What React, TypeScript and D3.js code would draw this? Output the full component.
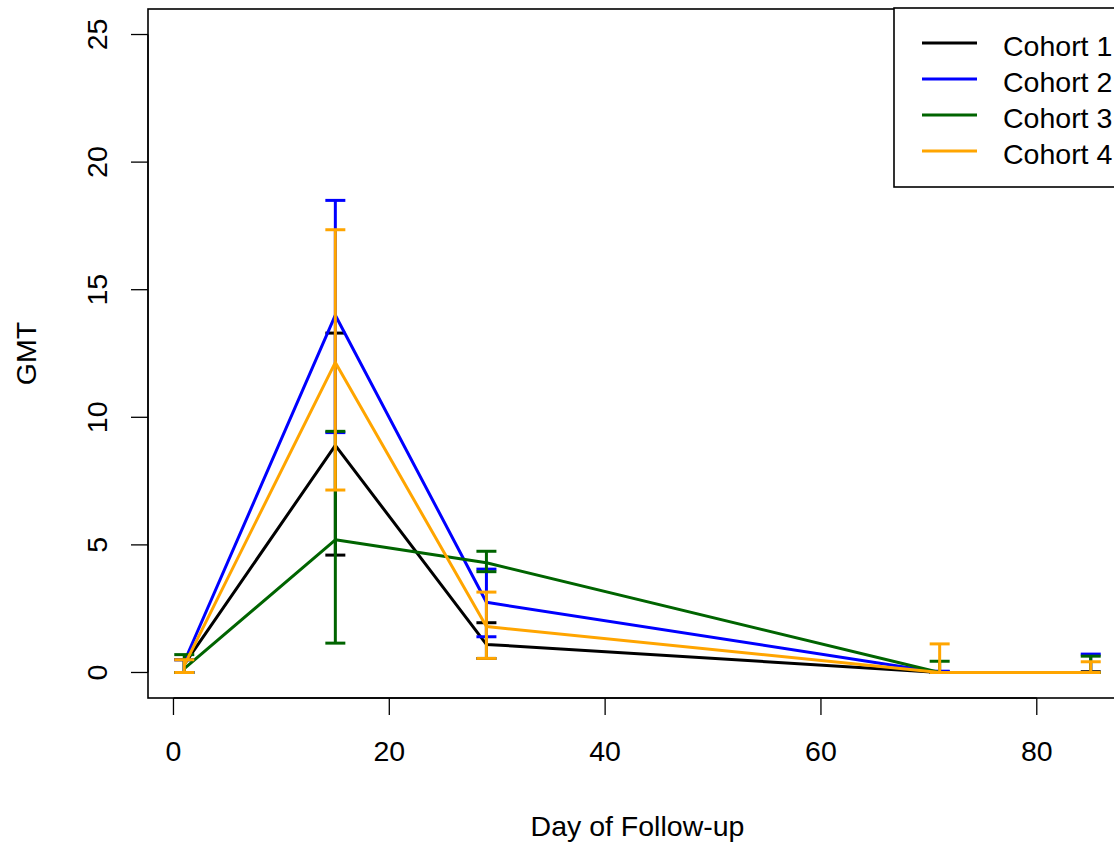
import React from "react";
import * as d3 from "d3";

// Days of follow-up at which GMT was measured
const days = [1, 15, 29, 71, 85];

const cohortNames = ["Cohort 1", "Cohort 2", "Cohort 3", "Cohort 4"];
const cohortColors = ["#000000", "#0000FF", "#006400", "#FFA500"];

// Geometric mean titres per cohort
const gmtCohort1 = [0.32, 8.9, 1.1, 0.0, 0.0];
const gmtCohort2 = [0.42, 14.0, 2.75, 0.0, 0.0];
const gmtCohort3 = [0.15, 5.2, 4.3, 0.0, 0.0];
const gmtCohort4 = [0.28, 12.15, 1.8, 0.0, 0.0];

// Lower confidence limits
const lowCohort1 = [0.0, 4.6, 0.55, 0.0, 0.0];
const lowCohort2 = [0.0, 9.4, 1.4, 0.0, 0.0];
const lowCohort3 = [0.0, 1.15, 3.95, 0.0, 0.0];
const lowCohort4 = [0.0, 7.15, 0.55, 0.0, 0.0];

// Upper confidence limits
const highCohort1 = [0.5, 13.3, 1.95, 0.03, 0.03];
const highCohort2 = [0.5, 18.5, 4.05, 0.05, 0.72];
const highCohort3 = [0.7, 9.45, 4.75, 0.44, 0.64];
const highCohort4 = [0.5, 17.35, 3.15, 1.12, 0.42];

const xTicks = [0, 20, 40, 60, 80];
const yTicks = [0, 5, 10, 15, 20, 25];

const gmt = [gmtCohort1, gmtCohort2, gmtCohort3, gmtCohort4];
const low = [lowCohort1, lowCohort2, lowCohort3, lowCohort4];
const high = [highCohort1, highCohort2, highCohort3, highCohort4];

const W = 1114;
const H = 844;
const plot = { left: 148, right: 1127, top: 9, bottom: 698 };

// R-style axis ranges: data limits padded by 4% on each side
const xLim = [1, 85];
const yLim = [0, 25];
const pad = (l: number[]) => {
  const r = l[1] - l[0];
  return [l[0] - 0.04 * r, l[1] + 0.04 * r];
};

const FONT = "'Liberation Sans', Arial, sans-serif";
const FS = 28.5;

export default function App() {
  const x = d3.scaleLinear().domain(pad(xLim)).range([plot.left, plot.right]);
  const y = d3.scaleLinear().domain(pad(yLim)).range([plot.bottom, plot.top]);
  const line = d3
    .line<number>()
    .x((_, i) => x(days[i]))
    .y((v) => y(v));

  const capHalf = 10;
  const lw = 3;

  const legendRowsY = [43, 79, 115, 151];

  return (
    <svg
      width={W}
      height={H}
      style={{ position: "absolute", left: 0, top: 0, background: "#fff" }}
      fontFamily={FONT}
    >
      <rect width={W} height={H} fill="#fff" />

      {/* series lines and error bars, drawn cohort by cohort */}
      {gmt.map((series, ci) => (
        <g key={ci} stroke={cohortColors[ci]} strokeWidth={lw} fill="none">
          <path d={line(series) || ""} strokeLinejoin="round" />
          {days.map((d, i) => {
            const lo = low[ci][i];
            const hi = high[ci][i];
            if (hi - lo < 1e-6) return null;
            const cx = x(d);
            return (
              <g key={i}>
                <line x1={cx} x2={cx} y1={y(lo)} y2={y(hi)} />
                <line x1={cx - capHalf} x2={cx + capHalf} y1={y(lo)} y2={y(lo)} />
                <line x1={cx - capHalf} x2={cx + capHalf} y1={y(hi)} y2={y(hi)} />
              </g>
            );
          })}
        </g>
      ))}

      {/* plot frame */}
      <rect
        x={plot.left}
        y={plot.top}
        width={plot.right - plot.left}
        height={plot.bottom - plot.top}
        fill="none"
        stroke="#000"
        strokeWidth={1.6}
      />

      {/* x axis */}
      <g stroke="#000" strokeWidth={1.3}>
        <line x1={x(xTicks[0])} x2={x(xTicks[xTicks.length - 1])} y1={plot.bottom} y2={plot.bottom} />
        {xTicks.map((t) => (
          <line key={t} x1={x(t)} x2={x(t)} y1={plot.bottom} y2={plot.bottom + 17} />
        ))}
      </g>
      {xTicks.map((t) => (
        <text key={t} x={x(t)} y={761} textAnchor="middle" fontSize={FS} fill="#000">
          {t}
        </text>
      ))}
      <text x={(plot.left + plot.right) / 2} y={836} textAnchor="middle" fontSize={FS} fill="#000">
        Day of Follow-up
      </text>

      {/* y axis */}
      <g stroke="#000" strokeWidth={1.3}>
        <line x1={plot.left} x2={plot.left} y1={y(yTicks[0])} y2={y(yTicks[yTicks.length - 1])} />
        {yTicks.map((t) => (
          <line key={t} x1={plot.left - 17} x2={plot.left} y1={y(t)} y2={y(t)} />
        ))}
      </g>
      {yTicks.map((t) => (
        <text
          key={t}
          transform={`translate(${107},${y(t)}) rotate(-90)`}
          textAnchor="middle"
          fontSize={FS}
          fill="#000"
        >
          {t}
        </text>
      ))}
      <text
        transform={`translate(${36},${(plot.top + plot.bottom) / 2}) rotate(-90)`}
        textAnchor="middle"
        fontSize={FS}
        fill="#000"
      >
        GMT
      </text>

      {/* legend */}
      <rect x={894} y={8} width={260} height={179} fill="#fff" stroke="#000" strokeWidth={1.6} />
      {cohortNames.map((name, i) => (
        <g key={name}>
          <line
            x1={922}
            x2={977}
            y1={legendRowsY[i]}
            y2={legendRowsY[i]}
            stroke={cohortColors[i]}
            strokeWidth={lw}
          />
          <text x={1003} y={legendRowsY[i] + 3} dy="0.35em" fontSize={FS} fill="#000">
            {name}
          </text>
        </g>
      ))}
    </svg>
  );
}
